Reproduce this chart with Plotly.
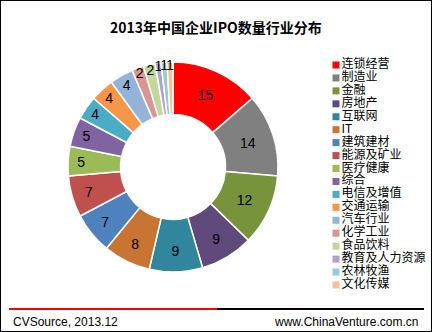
import plotly.graph_objects as go

# 2013 China IPO counts by industry
industries = ["连锁经营", "制造业", "金融", "房地产", "互联网", "IT", "建筑建材",
              "能源及矿业", "医疗健康", "综合", "电信及增值", "交通运输", "汽车行业",
              "化学工业", "食品饮料", "教育及人力资源", "农林牧渔", "文化传媒"]
ipo_counts = [15, 14, 12, 9, 9, 8, 7, 7, 5, 5, 4, 4, 4, 2, 2, 1, 1, 1]
colors = ["#FF0000", "#808080", "#77933C", "#604A7B", "#31859C", "#C87533",
          "#4F81BD", "#C0504D", "#9BBB59", "#8064A2", "#4BACC6", "#F79646",
          "#95B3D7", "#D99694", "#C3D69B", "#B3A2C7", "#93CDDD", "#FAC090"]

title_text = "2013年中国企业IPO数量行业分布"
source_text = "CVSource, 2013.12"
site_text = "www.ChinaVenture.com.cn"

W, H = 432, 332
cjk = "Noto Sans CJK SC"

fig = go.Figure()

fig.add_trace(go.Pie(
    labels=industries,
    values=ipo_counts,
    text=[str(v) for v in ipo_counts],
    textinfo="text",
    textposition="inside",
    insidetextorientation="horizontal",
    textfont=dict(family="Arial, Liberation Sans", size=14, color="#000000"),
    marker=dict(colors=colors, line=dict(color="#FFFFFF", width=1.5)),
    sort=False,
    direction="clockwise",
    rotation=0,
    hole=0.5,
    showlegend=False,
    hoverinfo="label+value",
    domain=dict(x=[68 / W, 278 / W], y=[1 - 272 / H, 1 - 62 / H]),
))

# Legend drawn as a column of square markers with labels
fig.add_trace(go.Scatter(
    x=[0] * len(industries),
    y=industries,
    mode="markers+text",
    marker=dict(symbol="square", size=7, color=colors, line=dict(width=0)),
    text=industries,
    textposition="middle right",
    textfont=dict(family=cjk, size=12, color="#000000"),
    xaxis="x2", yaxis="y2",
    showlegend=False,
    hoverinfo="skip",
    cliponaxis=False,
))

row_h = 12.94
top_px = 65 - row_h / 2
bot_px = top_px + row_h * len(industries)

fig.update_layout(
    width=W, height=H,
    margin=dict(l=0, r=0, t=0, b=0),
    paper_bgcolor="#FFFFFF",
    plot_bgcolor="rgba(0,0,0,0)",
    uniformtext=dict(minsize=14, mode="show"),
    xaxis2=dict(domain=[336 / W, 1], range=[0, 1], visible=False, fixedrange=True),
    yaxis2=dict(domain=[1 - bot_px / H, 1 - top_px / H], type="category",
                categoryorder="array", categoryarray=industries,
                range=[len(industries) - 0.5, -0.5], visible=False, fixedrange=True),
    annotations=[
        dict(text="<b>" + title_text + "</b>", x=216 / W, y=1 - 27 / H,
             xref="paper", yref="paper", xanchor="center", yanchor="middle",
             showarrow=False, font=dict(family=cjk, size=14, color="#000000")),
        dict(text=source_text, x=11 / W, y=1 - 322 / H, xref="paper", yref="paper",
             xanchor="left", yanchor="middle", showarrow=False,
             font=dict(family="Arial, Liberation Sans", size=12, color="#000000")),
        dict(text=site_text, x=420 / W, y=1 - 322 / H, xref="paper", yref="paper",
             xanchor="right", yanchor="middle", showarrow=False,
             font=dict(family="Arial, Liberation Sans", size=12, color="#000000")),
    ],
    shapes=[
        dict(type="line", xref="paper", yref="paper", x0=9 / W, x1=217 / W,
             y0=1 - 309 / H, y1=1 - 309 / H, line=dict(color="#FF0000", width=2)),
        dict(type="line", xref="paper", yref="paper", x0=217 / W, x1=424 / W,
             y0=1 - 309 / H, y1=1 - 309 / H, line=dict(color="#000000", width=2)),
        dict(type="rect", xref="paper", yref="paper", x0=0, x1=1, y0=0, y1=1,
             line=dict(color="#000000", width=2)),
    ],
)

fig.write_html("out.html")
